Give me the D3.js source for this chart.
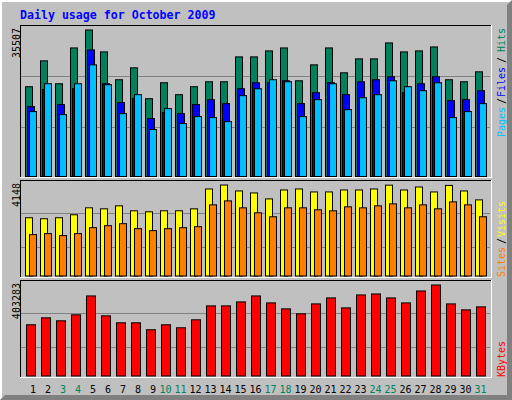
<!DOCTYPE html>
<html>
<head>
<meta charset="utf-8">
<script src="https://cdn.jsdelivr.net/npm/d3@7/dist/d3.min.js"></script>
<style>
body { margin: 0; background: #fff; }
svg text { font-family: "DejaVu Sans Mono", monospace; }
</style>
</head>
<body>
<svg width="512" height="400"></svg>
<script>

// values
var days = [1,2,3,4,5,6,7,8,9,10,11,12,13,14,15,16,17,18,19,20,21,22,23,24,25,26,27,28,29,30,31];
var weekends = [3,4,10,11,17,18,24,25,31];

var hits = [21760,28030,22480,31160,35507,30200,23450,26340,18860,22720,19830,21760,22960,22960,28990,28990,
            30440,31160,23200,27060,31160,25130,28510,28510,32370,30200,30440,31400,23450,22960,25370];
var files = [16930,21100,17420,21270,30680,22480,17900,18930,14040,15490,15240,17420,18620,17660,21270,22720,
             22720,23200,17660,20310,22720,19830,22960,23450,24170,20310,22480,24170,18380,18620,20790];
var pages = [15730,22480,15000,22480,27060,22240,15240,19830,11390,16450,12830,14520,14280,13310,19590,21270,
             23450,22960,14520,18620,22480,16210,19100,19830,23200,21760,20790,22720,14280,15730,17660];
var visits = [2655,2610,2655,2790,3107,3062,3198,2972,2926,2972,2972,3062,3967,4148,3876,3786,
              3514,3921,3967,3831,3831,3921,3921,3967,4140,3921,4057,3831,4130,3876,3469];
var sites = [1886,1931,1841,1931,2203,2293,2384,2157,2067,2157,2203,2248,3243,3424,3107,2881,
             2700,3107,3107,3017,2972,3153,3107,3198,3288,3107,3243,3062,3379,3243,2700];
var kbytes = [226960,257810,244590,271030,354760,266620,235770,235770,204930,226960,213740,249000,310690,310690,328320,354760,
              323910,297470,275440,319510,345950,301880,359170,363580,345950,323910,376800,403283,319510,293070,306290];

var maxHits = 35507, maxVisits = 4148, maxKbytes = 403283;

var grey = "#c0c0c0", dkgrey = "#808080",
    green = "rgb(0,128,92)", blue = "#0000ff", ltblue = "rgb(0,192,255)",
    yellow = "#ffff00", orange = "#ff8000", red = "#ff0000";

var svg = d3.select("svg");

// background + bevelled border
svg.append("rect").attr("width", 512).attr("height", 400).attr("fill", grey);
svg.append("path").attr("d", "M0,0H512L510,2H2V398L0,400Z").attr("fill", "#fff");
svg.append("path").attr("d", "M512,0V400H0L5,395H507V5Z").attr("fill", dkgrey);

svg.append("text")
    .attr("x", 20).attr("y", 18.5)
    .attr("fill", blue)
    .attr("font-size", "11.6px")
    .attr("font-weight", "bold")
    .text("Daily usage for October 2009");

var x = d3.scaleLinear().domain([1, 31]).range([25, 475]);

var panels = [
  {top: 25, bottom: 177, max: maxHits, base: 176, peak: 29.5, grid: [0.333, 0.68], label: "35507"},
  {top: 180, bottom: 277, max: maxVisits, base: 275.5, peak: 184.5, grid: [0.317, 0.683], label: "4148"},
  {top: 280, bottom: 377, max: maxKbytes, base: 375.5, peak: 284.5, grid: [0.317, 0.683], label: "403283"}
];

panels.forEach(function (p) {
  p.y = d3.scaleLinear().domain([0, p.max]).range([p.base, p.peak]);

  var g = svg.append("g");
  g.selectAll("line.grid")
      .data(p.grid)
    .enter().append("line")
      .attr("x1", 21).attr("x2", 490)
      .attr("y1", function (f) { return Math.round(p.y(f * p.max)) + 0.5; })
      .attr("y2", function (f) { return Math.round(p.y(f * p.max)) + 0.5; })
      .attr("stroke", dkgrey);

  // sunken frame: black top/left, white bottom/right
  g.append("line").attr("x1", 20).attr("x2", 491).attr("y1", p.top + 0.5).attr("y2", p.top + 0.5).attr("stroke", "#000");
  g.append("line").attr("x1", 20.5).attr("x2", 20.5).attr("y1", p.top).attr("y2", p.bottom + 1).attr("stroke", "#000");
  g.append("line").attr("x1", 20).attr("x2", 492).attr("y1", p.bottom + 0.5).attr("y2", p.bottom + 0.5).attr("stroke", "#fff");
  g.append("line").attr("x1", 491.5).attr("x2", 491.5).attr("y1", p.top).attr("y2", p.bottom + 1).attr("stroke", "#fff");

  svg.append("text")
      .attr("transform", "translate(19.5," + (p.top + 3) + ") rotate(-90)")
      .attr("text-anchor", "end")
      .attr("font-size", "10px")
      .attr("fill", "#000")
      .text(p.label);
  p.g = g;
});

function bars(p, values, offset, width, color) {
  p.g.selectAll(null)
      .data(values)
    .enter().append("rect")
      .attr("x", function (v, i) { return x(days[i]) + offset + 0.5; })
      .attr("y", function (v) { return p.y(v) + 0.5; })
      .attr("width", width)
      .attr("height", function (v) { return p.base - p.y(v); })
      .attr("fill", color)
      .attr("stroke", "#000");
}

bars(panels[0], hits, 0, 7, green);
bars(panels[0], files, 2, 7, blue);
bars(panels[0], pages, 4, 7, ltblue);
bars(panels[1], visits, 0, 7, yellow);
bars(panels[1], sites, 4, 7, orange);
bars(panels[2], kbytes, 1, 9, red);

// day labels
svg.selectAll("text.day")
    .data(days)
  .enter().append("text")
    .attr("class", "day")
    .attr("x", function (d) { return x(d) + (d < 10 ? 8 : 5.5); })
    .attr("y", 393)
    .attr("text-anchor", "middle")
    .attr("font-size", "10px")
    .attr("fill", function (d) { return weekends.indexOf(d) >= 0 ? green : "#000"; })
    .text(function (d) { return d; });

// vertical legends on the right
var legend = [
  {text: "Pages", at: 137, color: ltblue},
  {text: "/", at: 104, color: "#000"},
  {text: "Files", at: 97, color: blue},
  {text: "/", at: 63, color: "#000"},
  {text: "Hits", at: 52, color: green},
  {text: "Sites", at: 277, color: orange},
  {text: "/", at: 244, color: "#000"},
  {text: "Visits", at: 237, color: yellow},
  {text: "KBytes", at: 377, color: red}
];

svg.selectAll("text.legend")
    .data(legend)
  .enter().append("text")
    .attr("class", "legend")
    .attr("transform", function (d) { return "translate(505," + d.at + ") rotate(-90)"; })
    .attr("font-size", "10px")
    .attr("fill", function (d) { return d.color; })
    .text(function (d) { return d.text; });

</script>
</body>
</html>
